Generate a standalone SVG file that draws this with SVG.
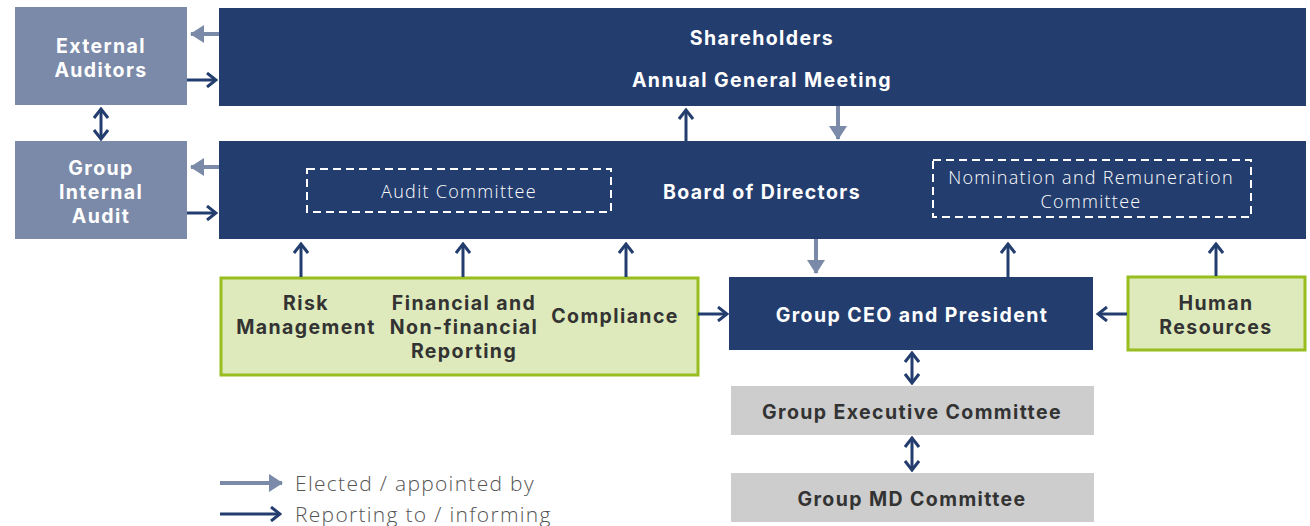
<svg xmlns="http://www.w3.org/2000/svg" width="1310" height="526" viewBox="0 0 1310 526">
<defs>
<style>
.dark{fill:#233d6e}
.light{fill:#7b8aa8}
.green{fill:#deeabb;stroke:#97bd1f;stroke-width:3}
.gray{fill:#cdcdcd}
.dash{fill:none;stroke:#ffffff;stroke-width:2;stroke-dasharray:8 5}
text{font-family:"Open Sans","Liberation Sans",sans-serif;text-anchor:middle}
.tw,.tb{font-family:Inter,"Liberation Sans",sans-serif;font-weight:700;font-size:19.5px;letter-spacing:1.4px}
.tw{fill:#ffffff}
.tb{fill:#333333}
.tl{fill:#ffffff;font-weight:300;font-size:18px;letter-spacing:1.3px}
.leg{fill:#555555;font-weight:300;font-size:21px;letter-spacing:1.3px;text-anchor:start}
.cd{stroke:#233d6e;stroke-width:3;fill:none}
.cl{stroke:#7b8aa8;stroke-width:4;fill:none}
</style>
<marker id="open" viewBox="0 0 12 16" refX="10" refY="8" markerWidth="12" markerHeight="16" markerUnits="userSpaceOnUse" orient="auto-start-reverse">
<path d="M1,1 L10,8 L1,15" fill="none" stroke="#233d6e" stroke-width="3"/>
</marker>
<marker id="tri" viewBox="0 0 14 18" refX="13" refY="9" markerWidth="14" markerHeight="18" markerUnits="userSpaceOnUse" orient="auto">
<path d="M0,0 L14,9 L0,18 Z" fill="#7b8aa8"/>
</marker>
</defs>
<g id="external-auditors">
<rect class="light" x="15" y="7" width="172" height="98"/>
<text class="tw" x="101" y="53">External</text>
<text class="tw" x="101" y="77">Auditors</text>
</g>
<g id="group-internal-audit">
<rect class="light" x="15" y="141" width="172" height="98"/>
<text class="tw" x="101" y="175">Group</text>
<text class="tw" x="101" y="199">Internal</text>
<text class="tw" x="101" y="223">Audit</text>
</g>
<g id="shareholders">
<rect class="dark" x="219" y="8" width="1087" height="98"/>
<text class="tw" x="762" y="45">Shareholders</text>
<text class="tw" x="762" y="87">Annual General Meeting</text>
</g>
<g id="board">
<rect class="dark" x="219" y="141" width="1087" height="98"/>
<text class="tw" x="762" y="199">Board of Directors</text>
<g id="audit-committee">
<rect class="dash" x="307" y="169" width="304" height="43"/>
<text class="tl" x="459" y="198">Audit Committee</text>
</g>
<g id="nomination-committee">
<rect class="dash" x="933" y="160" width="318" height="57"/>
<text class="tl" x="1091" y="184">Nomination and Remuneration</text>
<text class="tl" x="1091" y="208">Committee</text>
</g>
</g>
<g id="control-functions">
<rect class="green" x="221" y="278" width="477" height="97"/>
<text class="tb" x="306" y="310">Risk</text>
<text class="tb" x="306" y="334">Management</text>
<text class="tb" x="464" y="310">Financial and</text>
<text class="tb" x="464" y="334">Non-financial</text>
<text class="tb" x="464" y="358">Reporting</text>
<text class="tb" x="615" y="323">Compliance</text>
</g>
<g id="ceo">
<rect class="dark" x="729" y="277" width="364" height="73"/>
<text class="tw" x="912" y="322">Group CEO and President</text>
</g>
<g id="human-resources">
<rect class="green" x="1128" y="277" width="177" height="73"/>
<text class="tb" x="1216" y="310">Human</text>
<text class="tb" x="1216" y="334">Resources</text>
</g>
<g id="executive-committee">
<rect class="gray" x="731" y="386" width="363" height="49"/>
<text class="tb" x="912" y="419">Group Executive Committee</text>
</g>
<g id="md-committee">
<rect class="gray" x="731" y="473" width="363" height="49"/>
<text class="tb" x="912" y="506">Group MD Committee</text>
</g>
<g id="connectors">
<line class="cl" x1="219" y1="34" x2="191" y2="34" marker-end="url(#tri)"/>
<line class="cd" x1="187" y1="80" x2="216" y2="80" marker-end="url(#open)"/>
<line class="cl" x1="219" y1="167" x2="191" y2="167" marker-end="url(#tri)"/>
<line class="cd" x1="187" y1="213" x2="216" y2="213" marker-end="url(#open)"/>
<line class="cd" x1="101" y1="109" x2="101" y2="139" marker-start="url(#open)" marker-end="url(#open)"/>
<line class="cd" x1="686" y1="141" x2="686" y2="110" marker-end="url(#open)"/>
<line class="cl" x1="838" y1="106" x2="838" y2="139" marker-end="url(#tri)"/>
<line class="cd" x1="301" y1="277" x2="301" y2="244" marker-end="url(#open)"/>
<line class="cd" x1="463" y1="277" x2="463" y2="244" marker-end="url(#open)"/>
<line class="cd" x1="626" y1="277" x2="626" y2="244" marker-end="url(#open)"/>
<line class="cl" x1="816" y1="239" x2="816" y2="273" marker-end="url(#tri)"/>
<line class="cd" x1="1008" y1="277" x2="1008" y2="244" marker-end="url(#open)"/>
<line class="cd" x1="1216" y1="276" x2="1216" y2="244" marker-end="url(#open)"/>
<line class="cd" x1="698" y1="314" x2="727" y2="314" marker-end="url(#open)"/>
<line class="cd" x1="1127" y1="314" x2="1098" y2="314" marker-end="url(#open)"/>
<line class="cd" x1="912" y1="353" x2="912" y2="383" marker-start="url(#open)" marker-end="url(#open)"/>
<line class="cd" x1="912" y1="438" x2="912" y2="470" marker-start="url(#open)" marker-end="url(#open)"/>
</g>
<g id="legend">
<line class="cl" x1="220" y1="483" x2="282" y2="483" marker-end="url(#tri)"/>
<line class="cd" x1="220" y1="514" x2="280" y2="514" marker-end="url(#open)"/>
<text class="leg" x="295" y="491">Elected / appointed by</text>
<text class="leg" x="295" y="522">Reporting to / informing</text>
</g>
</svg>
